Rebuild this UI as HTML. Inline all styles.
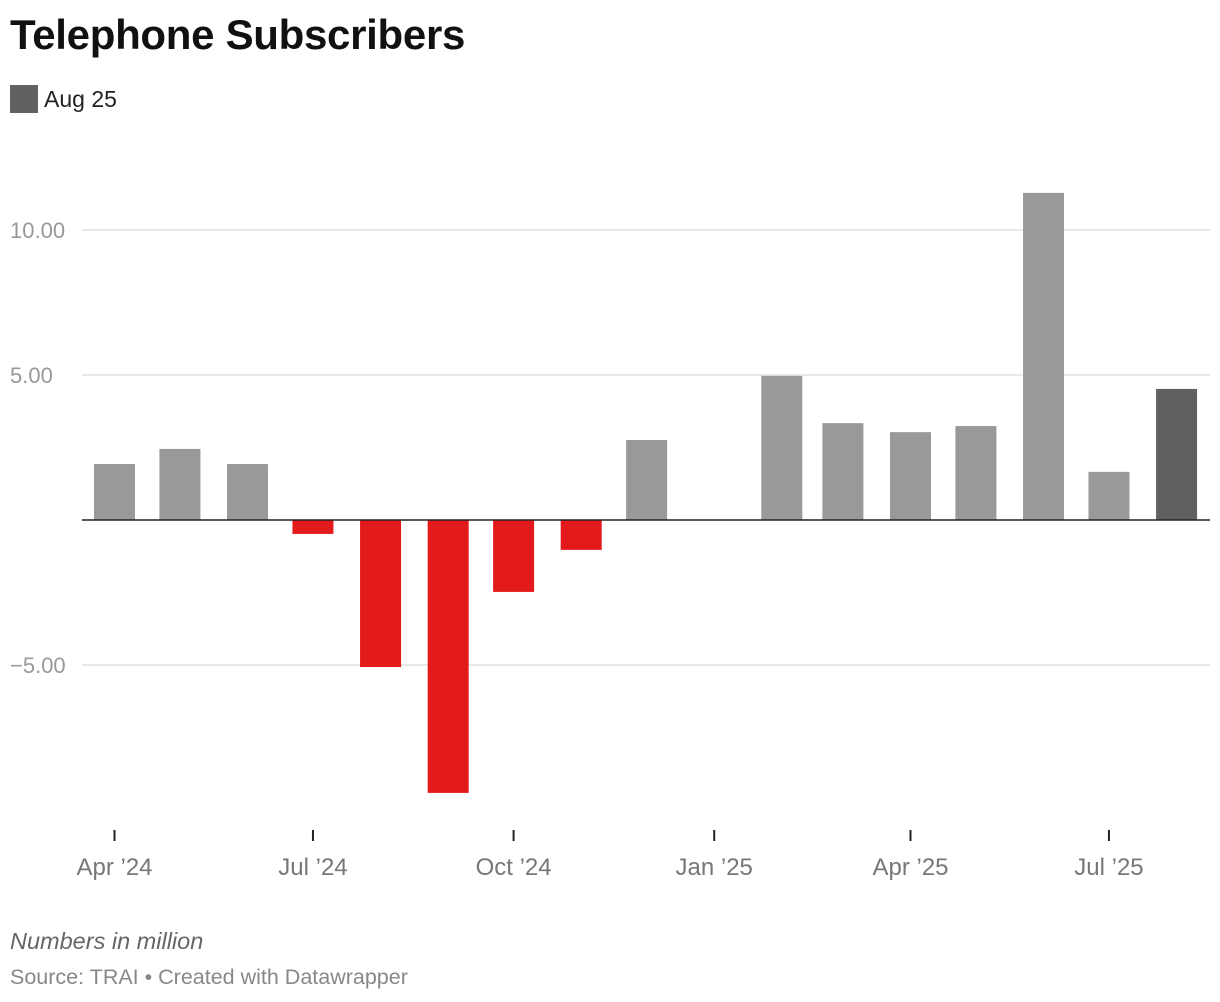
<!DOCTYPE html>
<html><head><meta charset="utf-8">
<style>
body{margin:0;background:#fff;font-family:"Liberation Sans",sans-serif;}
#wrap{position:relative;width:1220px;height:1002px;overflow:hidden;}
</style></head>
<body>
<div id="wrap">
<div style="position:absolute;left:10px;top:11px;font-size:42px;font-weight:bold;color:#111;letter-spacing:-0.3px">Telephone Subscribers</div>
<div style="position:absolute;left:10px;top:85px;display:flex;align-items:center">
<span style="display:inline-block;width:28px;height:28px;background:#606060"></span>
<span style="margin-left:6px;font-size:23px;color:#222">Aug 25</span></div>
<svg id="chart" width="1220" height="1002" style="position:absolute;left:0;top:0"></svg>
<div style="position:absolute;left:10px;top:928px;font-size:23.5px;font-style:italic;color:#666">Numbers in million</div>
<div style="position:absolute;left:10px;top:965px;font-size:21.5px;color:#888">Source: TRAI • Created with Datawrapper</div>
</div>
<script>
const months=["2024-04","2024-05","2024-06","2024-07","2024-08","2024-09","2024-10","2024-11","2024-12","2025-01","2025-02","2025-03","2025-04","2025-05","2025-06","2025-07","2025-08"];
const values=[1.93,2.45,1.93,-0.48,-5.07,-9.41,-2.48,-1.03,2.76,0,4.97,3.34,3.03,3.24,11.28,1.66,4.52];
const yTicks=[10,5,-5];
const yTickLabels=["10.00","5.00","−5.00"];
const xTicks=["2024-04","2024-07","2024-10","2025-01","2025-04","2025-07"];
const xTickLabels=["Apr ’24","Jul ’24","Oct ’24","Jan ’25","Apr ’25","Jul ’25"];
const svg=document.getElementById('chart');
const NS="http://www.w3.org/2000/svg";
const d0=Date.UTC(2024,3,1);
function day(m){const [y,mo]=m.split('-').map(Number);return (Date.UTC(y,mo-1,1)-d0)/86400000;}
function x(m){return 114.5+day(m)*(796/365);}
function y(v){return 520-v*29;}
function el(t,a){const e=document.createElementNS(NS,t);for(const k in a)e.setAttribute(k,a[k]);svg.appendChild(e);return e;}
yTicks.forEach((v,i)=>{
 const g=el('line',{x1:82,x2:1210,y1:y(v),y2:y(v),stroke:'#e0e0e0','stroke-width':1.5});
 
 
 const t=el('text',{x:10,y:y(v)+8,'font-size':22,fill:'#999','font-family':'Liberation Sans, sans-serif'});
 t.textContent=yTickLabels[i];
 
 
});
months.forEach((m,i)=>{
 const v=values[i];
 const col=i===months.length-1?'#606060':(v<0?'#e31a1c':'#999999');
 const r=el('rect',{x:x(m)-20.5,width:41,y:Math.min(y(v),y(0)),height:Math.abs(y(v)-y(0)),fill:col});
 
 
});
const b=el('line',{x1:82,x2:1210,y1:y(0),y2:y(0),stroke:'#222','stroke-width':1.5});


xTicks.forEach((m,i)=>{
 const l=el('line',{x1:x(m),x2:x(m),y1:830,y2:841,stroke:'#222','stroke-width':2});
 
 
 const t=el('text',{x:x(m),y:875,'font-size':24,fill:'#777','text-anchor':'middle','font-family':'Liberation Sans, sans-serif'});
 t.textContent=xTickLabels[i];
 
 
});
</script>
</body></html>
